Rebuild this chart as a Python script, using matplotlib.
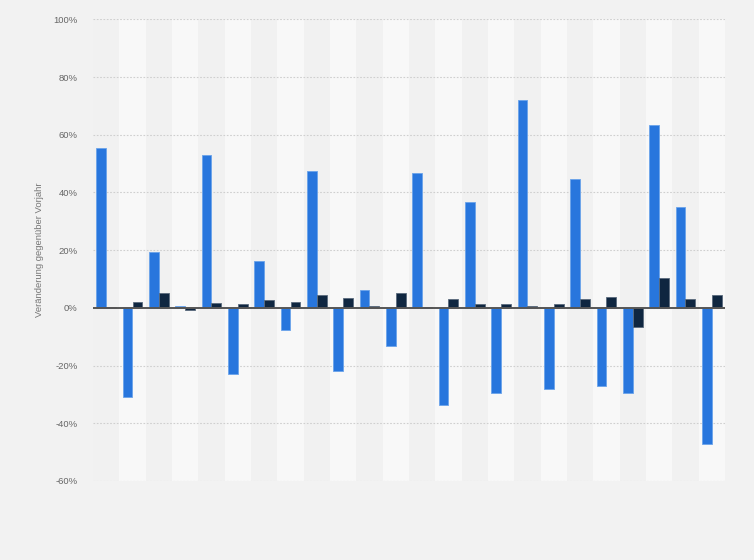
import matplotlib
matplotlib.use("Agg")
import matplotlib.pyplot as plt
import numpy as np

# Data (year-over-year change, %)
categories = [str(i) for i in range(1, 25)]
series_blue = [55.4, -31.0, 19.5, 0.8, 53.0, -23.0, 16.4, -7.8, 47.5, -22.0, 6.2, -13.3,
               46.8, -33.5, 36.8, -29.6, 72.0, -28.2, 44.7, -27.2, -29.6, 63.4, 35.0, -47.2]
series_dark = [0.2, 2.2, 5.0, -0.9, 1.7, 1.5, 2.6, 2.2, 4.3, 3.5, 0.8, 5.0,
               0.2, 2.9, 1.5, 1.2, 0.8, 1.5, 2.9, 3.6, -6.8, 10.2, 3.2, 4.3]
y_ticks = [-60, -40, -20, 0, 20, 40, 60, 80, 100]
y_label = "Veränderung gegenüber Vorjahr"

plt.rcParams['font.family'] = ['Liberation Sans', 'DejaVu Sans']

fig = plt.figure(figsize=(7.54, 5.60), dpi=100)
fig.patch.set_facecolor('#f2f2f2')
ax = fig.add_axes([93/754, 1-481/560, (725-93)/754, (481-19.3)/560])
ax.set_facecolor('#f2f2f2')

n = len(categories)
x = np.arange(n)
for i in range(n):
    ax.axvspan(i-0.5, i+0.5, color='#f1f1f1' if i % 2 == 0 else '#f8f8f8', zorder=0, lw=0)

w = 0.37
ax.bar(x-0.19, series_blue, width=w, color='#2876dd', edgecolor='#6aa3ea', linewidth=0.6, zorder=3)
ax.bar(x+0.185, series_dark, width=w, color='#0f2640', edgecolor='#5a6a7c', linewidth=0.6, zorder=3)

ax.set_xlim(-0.5, n-0.5)
ax.set_ylim(-60, 100)
ax.set_yticks(y_ticks)
ax.set_yticklabels([f"{t}%" for t in y_ticks])
ax.set_xticks([])
ax.tick_params(axis='y', length=0, pad=11, labelsize=6.8, labelcolor='#666666')
for s in ax.spines.values():
    s.set_visible(False)
ax.grid(axis='y', color='#cfcfcf', linestyle=(0, (1.5, 1.5)), linewidth=0.8, zorder=1)
ax.axhline(0, color='#555555', linewidth=1.4, zorder=4)

fig.text(40/754, 1-250/560, y_label, rotation=90, ha='center', va='center',
         fontsize=6.8, color='#777777')

fig.savefig('out.png', dpi=100, facecolor=fig.get_facecolor())
